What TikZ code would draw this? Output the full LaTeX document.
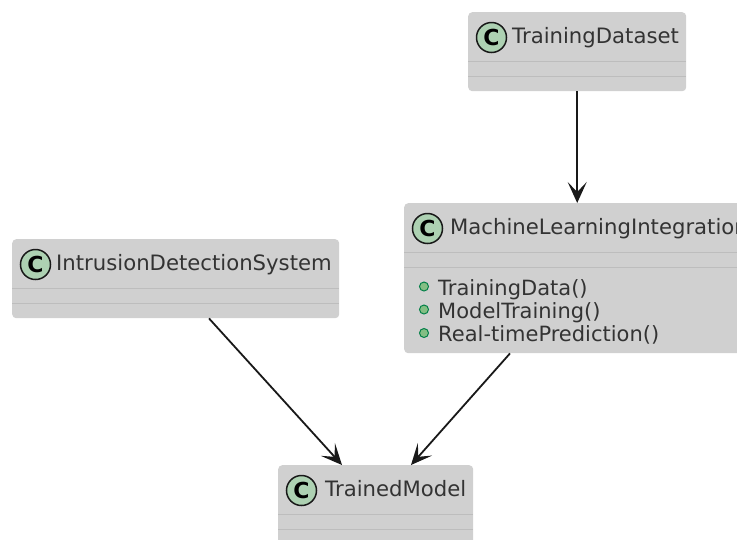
\documentclass[tikz,border=0pt]{standalone}
\usepackage{fontspec}
\setmainfont{DejaVu Sans}
\usetikzlibrary{arrows.meta}
\definecolor{boxfill}{HTML}{D0D0D0}
\definecolor{boxrule}{HTML}{BDBDBD}
\definecolor{iconfill}{HTML}{ADD1B2}
\definecolor{dotfill}{HTML}{84BE84}
\definecolor{dotrule}{HTML}{038048}
\definecolor{txt}{HTML}{333333}

\begin{document}
\begin{tikzpicture}[x=1pt,y=-1pt,
  classbox/.style={fill=boxfill, draw=none, rounded corners=4pt, anchor=north west,
    inner sep=0pt, minimum width=#1},
  divider/.style={draw=boxrule, line width=1pt},
  icon/.style={circle, draw=black!90, line width=1.5pt, fill=iconfill, minimum size=30pt,
    inner sep=0pt, font=\fontsize{22}{22}\selectfont\bfseries},
  title/.style={anchor=base west, inner sep=0pt, text=txt, font=\fontsize{21.2}{25}\selectfont},
  method/.style={anchor=base west, inner sep=0pt, text=txt, font=\fontsize{21}{25}\selectfont},
  mdot/.style={circle, draw=dotrule, fill=dotfill, line width=1pt, minimum size=9pt, inner sep=0pt},
  arr/.style={draw=black!90, line width=1.8pt, -{Stealth[length=21pt,width=19pt,inset=10pt]}}
]
\useasboundingbox (0,0) rectangle (737,539);
\clip (0,0) rectangle (737,539);

% class boxes
\node[classbox=218pt, minimum height=79pt] (td)  at (468,12)  {};
\node[classbox=346pt, minimum height=150pt] (mli) at (404,203) {};
\node[classbox=327pt, minimum height=79pt] (ids) at (12,239)  {};
\node[classbox=195pt, minimum height=79pt] (tm)  at (278,465) {};

% compartment separators
\foreach \c in {td,mli,ids,tm}{
  \draw[divider] ([yshift=-49pt]\c.north west) -- ([yshift=-49pt]\c.north east);
  \draw[divider] ([yshift=-64pt]\c.north west) -- ([yshift=-64pt]\c.north east);
}

% class headers
\node[icon] (td-icon)  at ([xshift=23.5pt,yshift=-25.5pt]td.north west)  {C};
\node[title] (td-name) at ([xshift=44pt,yshift=-31.5pt]td.north west)  {TrainingDataset};
\node[icon] (mli-icon) at ([xshift=23.5pt,yshift=-25.5pt]mli.north west) {C};
\node[title] (mli-name) at ([xshift=46pt,yshift=-31.5pt]mli.north west) {MachineLearningIntegration};
\node[icon] (ids-icon) at ([xshift=23.5pt,yshift=-25.5pt]ids.north west) {C};
\node[title] (ids-name) at ([xshift=44pt,yshift=-31.5pt]ids.north west) {IntrusionDetectionSystem};
\node[icon] (tm-icon)  at ([xshift=23.5pt,yshift=-25.5pt]tm.north west)  {C};
\node[title] (tm-name) at ([xshift=47pt,yshift=-31.5pt]tm.north west)  {TrainedModel};

% methods
\node[mdot] (m1-dot) at ([xshift=20pt,yshift=-83.5pt]mli.north west) {};
\node[method] (m1) at ([xshift=34pt,yshift=-92pt]mli.north west) {TrainingData()};
\node[mdot] (m2-dot) at ([xshift=20pt,yshift=-106.5pt]mli.north west) {};
\node[method] (m2) at ([xshift=34pt,yshift=-115pt]mli.north west) {ModelTraining()};
\node[mdot] (m3-dot) at ([xshift=20pt,yshift=-130pt]mli.north west) {};
\node[method] (m3) at ([xshift=34pt,yshift=-138.5pt]mli.north west) {Real-timePrediction()};

% associations
\draw[arr] (td.south) -- (mli.north);
\draw[arr] ([xshift=197pt]ids.south west) -- ([xshift=64pt]tm.north west);
\draw[arr] ([xshift=106pt]mli.south west) -- ([xshift=133pt]tm.north west);
\end{tikzpicture}
\end{document}
